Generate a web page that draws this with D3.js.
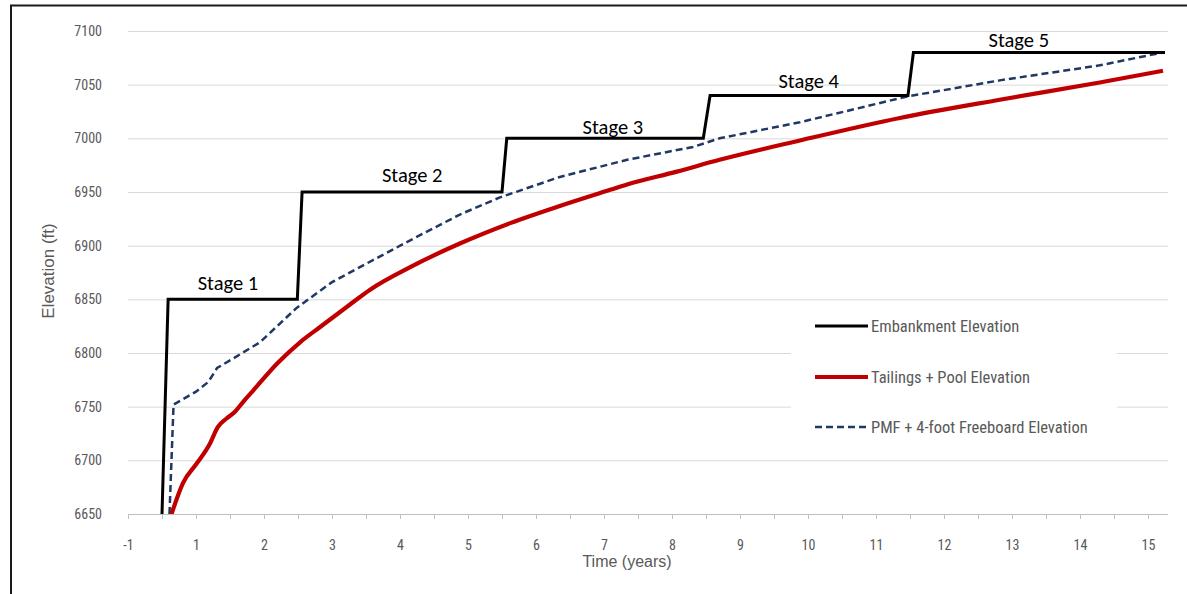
<!DOCTYPE html>
<html>
<head>
<meta charset="utf-8">
<script src="https://cdn.jsdelivr.net/npm/d3@7"></script>
<style>
  html, body { margin: 0; padding: 0; background: #fff; }
  svg { display: block; }
  .tick-label { font-family: 'Liberation Sans Narrow', 'Arial Narrow', 'Roboto Condensed', sans-serif; fill: #595959; }
  .axis-title { font-family: 'Liberation Sans', Arial, sans-serif; fill: #595959; }
  .stage { font-family: Carlito, Lato, 'Open Sans', sans-serif; fill: #000; }
</style>
</head>
<body>
<svg id="chart" width="1187" height="594"></svg>
<script>
// ---- data ----
const xTickLabels = ["-1","1","2","3","4","5","6","7","8","9","10","11","12","13","14","15"];
const yTicks = [6650, 6700, 6750, 6800, 6850, 6900, 6950, 7000, 7050, 7100];

const embankmentX = [0.5, 0.59, 2.49, 2.56, 5.5, 5.57, 8.46, 8.56, 11.47, 11.55, 15.25];
const embankmentY = [6650, 6850, 6850, 6950, 6950, 7000, 7000, 7040, 7040, 7080, 7080];

const tailingsX = [0.64, 0.81, 1.01, 1.2, 1.32, 1.45, 1.57, 1.7, 1.84, 2.19, 2.53, 2.82, 3.26, 3.56, 4.15, 4.88, 5.62, 6.35, 7.09, 7.34, 8.07, 8.7, 9.88, 11.35, 12.82, 14.29, 15.22];
const tailingsY = [6650, 6679, 6697, 6715, 6731, 6739, 6745, 6755, 6765, 6790, 6810, 6824, 6845, 6859, 6880, 6902, 6921, 6937, 6952, 6957, 6969, 6980, 6998, 7019, 7036, 7052, 7063];

const pmfX = [0.61, 0.67, 1.0, 1.18, 1.31, 1.55, 1.94, 2.48, 3.0, 3.41, 4.15, 4.88, 5.47, 6.35, 7.34, 8.31, 8.7, 9.88, 11.46, 12.82, 14.29, 15.22];
const pmfY = [6650, 6752, 6764, 6773, 6786, 6795, 6810, 6842, 6866, 6880, 6905, 6929, 6945, 6964, 6980, 6992, 7000, 7015, 7039, 7054, 7068, 7080];

const stageNames = ["Stage 1", "Stage 2", "Stage 3", "Stage 4", "Stage 5"];
const stageLabelX = [1.47, 4.18, 7.13, 10.01, 13.1];
const stageLabelY = [6865, 6966, 7011, 7054, 7092];

const seriesNames = ["Embankment Elevation", "Tailings + Pool Elevation", "PMF + 4-foot Freeboard Elevation"];

// ---- layout ----
const svg = d3.select("#chart");
const plot = { left: 128, right: 1168, top: 31, bottom: 514 };

const x = d3.scaleLinear().domain([0, 15.294]).range([plot.left, plot.right]);
const y = d3.scaleLinear().domain([6650, 7100]).range([plot.bottom, plot.top]);

// outer frame (left and top edges visible)
svg.append("path")
  .attr("d", "M11,596 L11,5.5 L1190,5.5")
  .attr("fill", "none").attr("stroke", "#1a1a1a").attr("stroke-width", 2);

// gridlines + y labels
const yAxis = d3.axisLeft(y).tickValues(yTicks).tickSize(-(plot.right - plot.left)).tickPadding(26).tickFormat(d3.format("d"));
const gy = svg.append("g").attr("transform", `translate(${plot.left},0)`).call(yAxis);
gy.select(".domain").remove();
gy.selectAll(".tick line").attr("stroke", "#d9d9d9").attr("stroke-width", 1)
  .filter(d => d === 6650).remove();
gy.selectAll(".tick text").attr("class", "tick-label").style("font-size", "14px");

// x axis
const xAxis = d3.axisBottom(x).tickValues(d3.range(0, 15.01, 0.5)).tickSize(5)
  .tickFormat(d => Number.isInteger(d) ? xTickLabels[d] : "").tickPadding(21);
const gx = svg.append("g").attr("transform", `translate(0,${plot.bottom})`).call(xAxis);
gx.select(".domain").attr("stroke", "#bfbfbf").attr("d", `M${plot.left},0.5H${plot.right}`);
gx.selectAll(".tick line").attr("stroke", "#bfbfbf");
gx.selectAll(".tick text").attr("class", "tick-label").style("font-size", "14px");

// axis titles
svg.append("text").attr("class", "axis-title")
  .attr("x", 627).attr("y", 567).attr("text-anchor", "middle")
  .style("font-size", "16px")
  .text("Time (years)");
svg.append("text").attr("class", "axis-title")
  .attr("transform", "translate(54,271) rotate(-90)").attr("text-anchor", "middle")
  .style("font-size", "17px")
  .text("Elevation (ft)");

// lines
const zip = (a, b) => a.map((v, i) => [v, b[i]]);
const lineLinear = d3.line().x(d => x(d[0])).y(d => y(d[1]));
const lineSmooth = d3.line().x(d => x(d[0])).y(d => y(d[1])).curve(d3.curveMonotoneX);

svg.append("clipPath").attr("id", "plotclip").append("rect")
  .attr("x", plot.left).attr("y", 0).attr("width", plot.right - plot.left + 5).attr("height", plot.bottom);

svg.append("path").datum(zip(pmfX, pmfY)).attr("clip-path", "url(#plotclip)")
  .attr("d", lineLinear).attr("fill", "none").attr("stroke", "#1f3864").attr("stroke-width", 2.5)
  .attr("stroke-dasharray", "7,4");
svg.append("path").datum(zip(tailingsX, tailingsY)).attr("clip-path", "url(#plotclip)")
  .attr("d", lineSmooth).attr("fill", "none").attr("stroke", "#c00000").attr("stroke-width", 4.2)
  .attr("stroke-linejoin", "round");
svg.append("path").datum(zip(embankmentX, embankmentY)).attr("clip-path", "url(#plotclip)")
  .attr("d", lineLinear).attr("fill", "none").attr("stroke", "#000").attr("stroke-width", 3);

// stage labels
svg.selectAll("text.stage").data(stageNames).enter().append("text")
  .attr("class", "stage").attr("x", (d, i) => x(stageLabelX[i])).attr("y", (d, i) => y(stageLabelY[i]))
  .attr("dy", "0.35em").attr("text-anchor", "middle").style("font-size", "20.5px").text(d => d);

// legend
const lg = svg.append("g");
lg.append("rect").attr("x", 791).attr("y", 318).attr("width", 326).attr("height", 128).attr("fill", "#fff");
const legendStyles = [
  { stroke: "#000", w: 3, dash: null },
  { stroke: "#c00000", w: 4.2, dash: null },
  { stroke: "#1f3864", w: 2.5, dash: "7,4" }
];
const legendY = [326, 377, 427];
seriesNames.forEach((name, i) => {
  lg.append("line").attr("x1", 815).attr("x2", 868).attr("y1", legendY[i]).attr("y2", legendY[i])
    .attr("stroke", legendStyles[i].stroke).attr("stroke-width", legendStyles[i].w)
    .attr("stroke-dasharray", legendStyles[i].dash);
  lg.append("text").attr("class", "tick-label").attr("x", 871).attr("y", legendY[i]).attr("dy", "0.35em")
    .style("font-size", "16.5px").text(name);
});
</script>
</body>
</html>
